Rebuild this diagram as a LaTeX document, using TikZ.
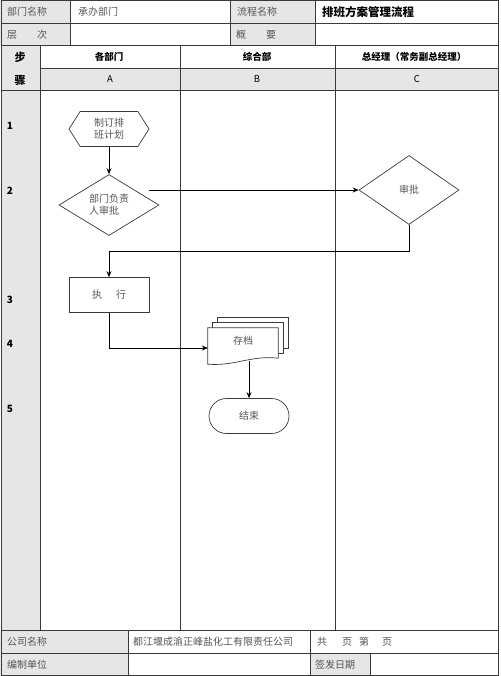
\documentclass[tikz,border=0pt]{standalone}
\usepackage{fontspec}
\setmainfont{Noto Sans CJK SC}
\usepackage{xcolor}
\usetikzlibrary{arrows.meta,positioning,calc,shapes.geometric,shapes.symbols,shapes.misc}
\definecolor{lineGray}{HTML}{3A3A3A}
\definecolor{cellGray}{HTML}{E6E6E6}
\definecolor{textGray}{HTML}{555555}

\begin{document}
\begin{tikzpicture}[x=1pt,y=-1pt,font=\fontsize{10}{12}\selectfont,
  rule/.style={draw=lineGray,line width=0.7pt},
  cellText/.style={anchor=west,text=textGray,inner sep=0pt},
  head/.style={font=\fontsize{9.5}{11}\selectfont\bfseries,inner sep=0pt},
  laneTag/.style={font=\fontsize{9.5}{11}\selectfont,inner sep=0pt},
  stepNum/.style={font=\fontsize{10}{12}\selectfont\bfseries,inner sep=0pt},
  flowBox/.style={draw=lineGray,line width=0.7pt,fill=white,text=textGray,align=center,inner sep=1pt},
  arr/.style={-{Stealth[length=6pt,width=5pt]},line width=0.8pt,draw=black}]
\useasboundingbox (0,0) rectangle (500,676);
% grey cells
\fill[cellGray] (0,0) rectangle (70,45);
\fill[cellGray] (230,0) rectangle (315,45);
\fill[cellGray] (2,45) rectangle (40,630);
\fill[cellGray] (40,68) rectangle (498,90);
\fill[cellGray] (0,630) rectangle (128,676);
\fill[cellGray] (310,653) rectangle (370,676);
% table rules
\draw[rule] (1.5,0.5) rectangle (498.5,675.5);
\foreach \y in {23,45,90,630,653} \draw[rule] (1.5,\y) -- (498.5,\y);
\draw[rule] (40,68) -- (498.5,68);
\foreach \x in {70,230,315} \draw[rule] (\x,0.5) -- (\x,45);
\foreach \x in {40,180,335} \draw[rule] (\x,45) -- (\x,630);
\foreach \x in {128,310} \draw[rule] (\x,630) -- (\x,675.5);
\draw[rule] (370,653) -- (370,675.5);
% header texts
\node[cellText] (lbDept) at (7,12) {部门名称};
\node[cellText] (lbDeptVal) at (78,12) {承办部门};
\node[cellText] (lbFlow) at (237,12) {流程名称};
\node[cellText,text=black,font=\fontsize{11.5}{13}\selectfont\bfseries] (lbTitle) at (322,12) {排班方案管理流程};
\node[cellText] (lbLevel) at (7,35) {层\hspace{2em}次};
\node[cellText] (lbSumm) at (236,35) {概\hspace{2em}要};
\node[head,font=\fontsize{11}{13}\selectfont\bfseries] (hdStep) at (20,57) {步};
\node[head,font=\fontsize{11}{13}\selectfont\bfseries] (hdStepB) at (20,80) {骤};
\node[head] (hdA) at (109,57) {各部门};
\node[head] (hdB) at (257,57) {综合部};
\node[head] (hdC) at (414,57) {总经理（常务副总经理）};
\node[laneTag] (hdLaneA) at (110,79) {A};
\node[laneTag] (hdLaneB) at (257,79) {B};
\node[laneTag] (hdLaneC) at (417,79) {C};
\foreach \n/\y in {1/126,2/191,3/300,4/344,5/409}
  \node[stepNum] (st\n) at (10,\y) {\n};
% flow
\node[flowBox,signal,signal to=west and east,signal pointer angle=115,
  minimum width=80pt,minimum height=35pt] (ndPlan) at (109,129) {制订排\\班计划};
\node[flowBox,diamond,aspect=1.6,inner sep=0pt,minimum width=100pt,
  minimum height=61pt,align=left] (ndDeptOk) at (109,205) {部门负责\\人审批};
\node[flowBox,diamond,aspect=1.6,inner sep=0pt,minimum width=100pt,
  minimum height=69pt] (ndApprove) at (409,190) {审批};
\node[flowBox,minimum width=80pt,minimum height=35pt] (ndExec) at (109,295) {执\hspace{14pt}行};
\node[text=textGray,minimum width=70pt,minimum height=30pt,inner sep=0pt] (ndArch) at (243,343) {};
\node[flowBox,rounded rectangle,minimum width=82pt,minimum height=35pt] (ndEnd) at (249,416) {结束};
% stacked document
\draw[rule,fill=white] ($(ndArch.north west)+(10,-10)$) rectangle ($(ndArch.south east)+(10,-10)$);
\draw[rule,fill=white] ($(ndArch.north west)+(5,-5)$) rectangle ($(ndArch.south east)+(5,-5)$);
\draw[rule,fill=white] (ndArch.north west) -- ($(ndArch.south west)+(0,6)$)
  .. controls ($(ndArch.south west)+(28,8)$) and ($(ndArch.south east)+(-28,-3)$) .. (ndArch.south east)
  -- (ndArch.north east) -- cycle;
\node[text=textGray,inner sep=0pt] (lbArch) at ([yshift=2pt]ndArch.center) {存档};
% connectors
\coordinate (gapStart) at ([xshift=-10pt]ndDeptOk.east |- ndApprove.west);
\draw[arr] (ndPlan.south) -- (ndDeptOk.north);
\draw[arr] (gapStart) -- (ndApprove.west);
\draw[arr] (ndApprove.south) -- ++(0,27) -| (ndExec.north);
\draw[arr] (ndExec.south) |- ([yshift=-5pt]ndArch.west);
\draw[arr] ($(ndArch.south -| ndEnd.north)+(0,3)$) -- (ndEnd.north);
% footer texts
\node[cellText] (lbCompany) at (7,642) {公司名称};
\node[cellText] (lbCompanyVal) at (133,642) {都江堰成渝正峰盐化工有限责任公司};
\node[cellText] (lbPages) at (317,642) {共\hspace{15pt}页\hspace{7pt}第\hspace{13pt}页};
\node[cellText] (lbUnit) at (7,665) {编制单位};
\node[cellText] (lbIssue) at (315,665) {签发日期};
\end{tikzpicture}
\end{document}
